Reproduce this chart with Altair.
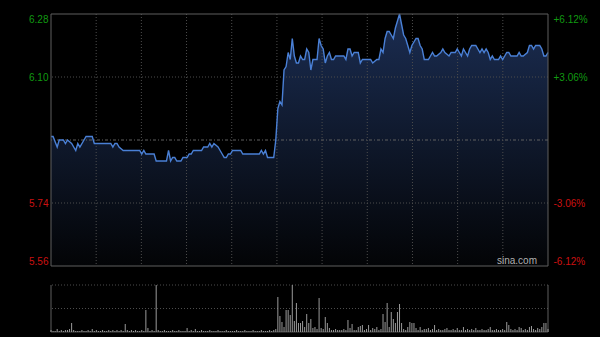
import altair as alt
import pandas as pd

# ---- data (minute index 0..241, price in CNY) ----
minutes = [0, 1, 3, 4, 6, 7, 8, 10, 12, 13, 14, 16, 17, 20, 21, 29, 30, 31, 32, 33, 35, 43, 44, 45, 46, 50,
           51, 56, 57, 58, 59, 60, 61, 63, 64, 66, 67, 68, 69, 73, 74, 76, 77, 78, 79, 81, 82, 83, 84, 85,
           86, 87, 88, 92, 93, 101, 102, 103, 104, 105, 108, 109, 110, 111, 112, 113, 114, 115, 116, 117,
           118, 119, 120, 121, 122, 123, 124, 125, 126, 127, 129, 130, 131, 132, 133, 134, 135, 136, 137,
           138, 141, 142, 143, 144, 145, 146, 147, 149, 150, 151, 153, 155, 156, 158, 159, 160, 161, 162,
           163, 164, 165, 166, 167, 168, 169, 170, 171, 172, 173, 174, 175, 176, 177, 178, 179, 180, 181,
           182, 183, 184, 185, 186, 187, 189, 190, 191, 193, 194, 196, 197, 198, 199, 200, 201, 202, 203,
           204, 206, 207, 208, 209, 210, 211, 212, 213, 214, 215, 217, 218, 219, 220, 221, 222, 223, 226,
           227, 228, 229, 231, 232, 233, 234, 235, 237, 238, 239, 240, 241]
prices = [5.93, 5.93, 5.90, 5.92, 5.92, 5.91, 5.92, 5.91, 5.89, 5.91, 5.90, 5.92, 5.93, 5.93, 5.91, 5.91,
          5.90, 5.91, 5.91, 5.90, 5.89, 5.89, 5.88, 5.89, 5.88, 5.88,
          5.86, 5.86, 5.89, 5.86, 5.87, 5.87, 5.86, 5.86, 5.87, 5.87, 5.88, 5.88, 5.89, 5.89, 5.90, 5.90,
          5.91, 5.90, 5.91, 5.90, 5.89, 5.88, 5.87, 5.87,
          5.88, 5.88, 5.89, 5.89, 5.88, 5.88, 5.89, 5.88, 5.89, 5.87, 5.87, 5.92, 6.01, 6.03, 6.02, 6.12,
          6.13, 6.17, 6.15, 6.21,
          6.16, 6.14, 6.14, 6.16, 6.15, 6.15, 6.18, 6.17, 6.12, 6.15, 6.15, 6.21, 6.19, 6.18, 6.14, 6.16,
          6.17, 6.15, 6.15,
          6.16, 6.16, 6.16, 6.15, 6.18, 6.18, 6.16, 6.17, 6.17, 6.14, 6.15, 6.15, 6.15, 6.14, 6.15, 6.15,
          6.18, 6.17, 6.21,
          6.23, 6.23, 6.22, 6.21, 6.24, 6.26, 6.28, 6.25, 6.22, 6.21, 6.19, 6.17, 6.19, 6.20, 6.21, 6.21,
          6.19, 6.18, 6.15,
          6.15, 6.15, 6.16, 6.17, 6.16, 6.16, 6.17, 6.18, 6.17, 6.16, 6.17, 6.17, 6.18, 6.17, 6.16, 6.18,
          6.17, 6.16, 6.18,
          6.19, 6.19, 6.18, 6.17, 6.18, 6.17, 6.18, 6.17, 6.15, 6.16, 6.15, 6.15, 6.16, 6.15, 6.16, 6.17,
          6.17, 6.16, 6.16,
          6.17, 6.16, 6.16, 6.17, 6.19, 6.19, 6.18, 6.19, 6.19, 6.18, 6.16, 6.16, 6.17]

# per-minute volume (relative units, 47 = tallest bar)
volume = [2, 1, 1, 3, 1, 2, 1, 2, 2, 3,
          9, 2, 1, 1, 1, 2, 1, 1, 2, 1,
          3, 1, 2, 1, 1, 2, 1, 1, 2, 1,
          2, 1, 2, 1, 2, 1, 8, 2, 1, 2,
          1, 2, 1, 1, 2, 1, 22, 4, 1, 2,
          1, 47, 2, 1, 1, 2, 1, 1, 1, 2,
          1, 1, 2, 1, 1, 1, 4, 1, 2, 1,
          3, 1, 1, 2, 1, 1, 1, 2, 1, 1,
          1, 2, 1, 1, 1, 2, 1, 1, 1, 1,
          2, 1, 1, 1, 2, 1, 1, 1, 2, 1,
          1, 1, 2, 1, 1, 1, 2, 1, 2, 3,
          35, 16, 10, 5, 22, 22, 17, 47, 11, 29,
          9, 9, 11, 5, 18, 9, 13, 4, 5, 3,
          34, 4, 3, 15, 9, 4, 2, 2, 3, 2,
          2, 2, 3, 2, 12, 4, 8, 2, 2, 5,
          6, 7, 2, 3, 7, 2, 4, 3, 5, 2,
          3, 18, 10, 29, 5, 20, 13, 9, 20, 28,
          9, 3, 2, 5, 10, 9, 9, 4, 2, 5,
          2, 3, 3, 4, 2, 3, 7, 2, 3, 2,
          2, 3, 4, 2, 2, 3, 2, 4, 2, 2,
          5, 2, 3, 2, 3, 2, 4, 2, 2, 3,
          2, 2, 3, 5, 2, 2, 3, 2, 2, 3,
          2, 10, 7, 3, 2, 3, 2, 5, 4, 2,
          3, 2, 5, 6, 3, 2, 4, 3, 5, 9,
          9, 3]

price_ticks = [5.56, 5.74, 6.10, 6.28]
pct_ticks = [-0.0612, -0.0306, 0.0306, 0.0612]
prev_close = 5.92
price_min, price_max = 5.56, 6.28
last_minute = 241

# ---- layout ----
W, H = 497, 318          # whole plotting region (price + volume)
PH = 252                 # price panel height
VTOP = 271               # volume panel top (pixels from top)
GREEN, RED = "#119911", "#cc1111"
GRID = "#4d4d4d"
BORDER = "#5e5e5e"
FONT = "Liberation Sans"

price_df = pd.DataFrame({"m": minutes, "p": prices})
vol_df = pd.DataFrame({"m": list(range(len(volume))), "v": volume})
vgrid_df = pd.DataFrame({"m": [last_minute * k / 11 for k in range(1, 11)]})

xs = alt.Scale(domain=[0, last_minute], nice=False, zero=False)
py = alt.Scale(domain=[price_min, price_max], range=[PH, 0], nice=False, zero=False)
vy = alt.Scale(domain=[0, 47], range=[H, VTOP], nice=False, zero=False)
pcts = alt.Scale(domain=[-0.0612, 0.0612], range=[PH, 0], nice=False, zero=False)

X = lambda: alt.X("m:Q", scale=xs, axis=None)

gradient = alt.Gradient(
    gradient="linear", x1=0, x2=0, y1=0, y2=1,
    stops=[alt.GradientStop(color="#1b2d52", offset=0),
           alt.GradientStop(color="#030406", offset=1)],
)

area = alt.Chart(price_df).mark_area(fill=gradient, interpolate="linear").encode(
    x=X(),
    y=alt.Y("p:Q", scale=py, axis=alt.Axis(
        orient="left", values=price_ticks, domain=False, ticks=False, grid=False,
        labelFlush=True, labelPadding=3, format=".2f", title=None,
        labelColor={"expr": f"datum.value > {prev_close} ? '{GREEN}' : '{RED}'"},
    )),
    y2=alt.datum(price_min),
)

hgrid = alt.Chart(pd.DataFrame({"p": [5.74, 6.10]})).mark_rule(
    color=GRID, strokeDash=[1, 2], strokeWidth=1).encode(
    y=alt.Y("p:Q", scale=py, axis=None))

midline = alt.Chart(pd.DataFrame({"p": [prev_close]})).mark_rule(
    color="#606060", strokeDash=[3, 2, 1, 2], strokeWidth=1).encode(
    y=alt.Y("p:Q", scale=py, axis=None))

vgrid = alt.Chart(vgrid_df).mark_rule(color=GRID, strokeDash=[1, 2], strokeWidth=1).encode(
    x=X(), y=alt.value(0), y2=alt.value(PH))

line = alt.Chart(price_df).mark_line(color="#4a80d6", strokeWidth=1.4, interpolate="linear").encode(
    x=X(), y=alt.Y("p:Q", scale=py, axis=None))

frame = alt.Chart(pd.DataFrame({"a": [0]})).mark_rect(
    filled=False, stroke=BORDER, strokeWidth=1).encode(
    x=alt.value(0), x2=alt.value(W), y=alt.value(0), y2=alt.value(PH))

pct = alt.Chart(pd.DataFrame({"q": pct_ticks})).mark_point(opacity=0).encode(
    y=alt.Y("q:Q", scale=pcts, axis=alt.Axis(
        orient="right", values=pct_ticks, domain=False, ticks=False, grid=False,
        labelFlush=True, labelPadding=5, title=None,
        labelExpr="(datum.value > 0 ? '+' : '-') + format(abs(datum.value), '.2%')",
        labelColor={"expr": f"datum.value > 0 ? '{GREEN}' : '{RED}'"},
    )))

watermark = alt.Chart(pd.DataFrame({"t": ["sina.com"]})).mark_text(
    align="right", baseline="alphabetic", color="#b0b0b0", font=FONT, fontSize=10).encode(
    text="t:N", x=alt.value(486), y=alt.value(250))

vol_grid = alt.Chart(pd.DataFrame({"v": [47, 23.5]})).mark_rule(
    color=GRID, strokeDash=[1, 2], strokeWidth=1).encode(
    y=alt.Y("v:Q", scale=vy, axis=None))

vol_sides = alt.Chart(pd.DataFrame({"m": [0, last_minute]})).mark_rule(
    color=BORDER, strokeWidth=1).encode(x=X(), y=alt.value(VTOP), y2=alt.value(H))

vol_base = alt.Chart(pd.DataFrame({"v": [0]})).mark_rule(color="#4a4a4a", strokeWidth=1).encode(
    y=alt.Y("v:Q", scale=vy, axis=None))

bars = alt.Chart(vol_df).mark_rule(color="#9a9a9a", strokeWidth=1).encode(
    x=X(), y=alt.Y("v:Q", scale=vy, axis=None), y2=alt.datum(0))

chart = alt.layer(
    area, hgrid, midline, vgrid, line, frame, pct, watermark,
    vol_grid, vol_sides, vol_base, bars,
).resolve_scale(y="independent").properties(
    width=W, height=H,
    autosize=alt.AutoSizeParams(type="none"),
    padding={"left": 51, "top": 14, "right": 52, "bottom": 5},
    background="#000000",
).configure_view(stroke=None).configure_axis(
    labelFont=FONT, labelFontSize=10,
)

chart.save("out.html", embed_options={"renderer": "svg", "actions": False})
